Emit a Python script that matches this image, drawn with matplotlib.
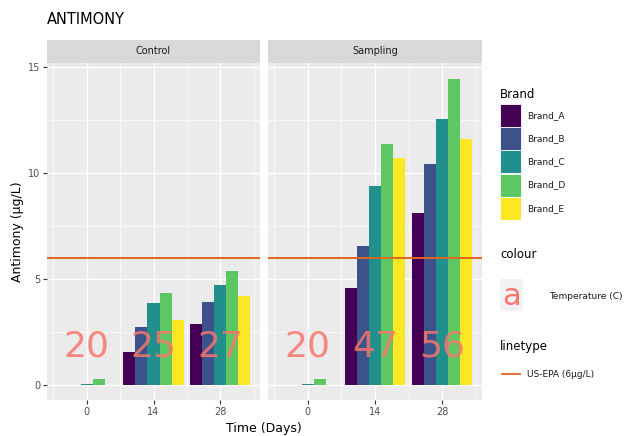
import numpy as np
import matplotlib.pyplot as plt
from matplotlib.patches import Rectangle
from matplotlib.lines import Line2D

# Antimony released per brand, by storage condition and time
dias = [0, 14, 28]
marcas = ["Brand_A", "Brand_B", "Brand_C", "Brand_D", "Brand_E"]
colores = ["#440154", "#3B528B", "#21908C", "#5DC863", "#FDE725"]

control = {
    "Brand_A": [0.0, 1.53, 2.85],
    "Brand_B": [0.0, 2.72, 3.89],
    "Brand_C": [0.05, 3.86, 4.70],
    "Brand_D": [0.28, 4.33, 5.37],
    "Brand_E": [0.0, 3.08, 4.17],
}
muestreo = {
    "Brand_A": [0.0, 4.58, 8.10],
    "Brand_B": [0.0, 6.55, 10.45],
    "Brand_C": [0.05, 9.38, 12.55],
    "Brand_D": [0.28, 11.35, 14.45],
    "Brand_E": [0.0, 10.70, 11.60],
}
temp_control = [20, 25, 27]
temp_muestreo = [20, 47, 56]
limite_epa = 6

GRIS_PANEL = "#EBEBEB"
GRIS_STRIP = "#D9D9D9"
ROJO_TEXTO = "#F8766D"
NARANJA = "#E0651E"

fig = plt.figure(figsize=(6.41, 4.36), dpi=100)
fig.patch.set_facecolor("white")

W, H = 641, 436


def caja(x0, y0, x1, y1):
    return [x0 / W, 1 - y1 / H, (x1 - x0) / W, (y1 - y0) / H]


def panel(x0, x1, datos, temps, titulo, eje_y):
    ax = fig.add_axes(caja(x0, 63, x1, 400))
    ax.set_facecolor(GRIS_PANEL)
    ancho_grupo = 0.9 * 14
    ancho = ancho_grupo / len(marcas)
    for i, (marca, col) in enumerate(zip(marcas, colores)):
        pos = np.array(dias) - ancho_grupo / 2 + ancho * (i + 0.5)
        ax.bar(pos, datos[marca], width=ancho, color=col, zorder=2)
    ax.axhline(limite_epa, color=NARANJA, lw=1.4, zorder=3)
    for d, t in zip(dias, temps):
        ax.text(d, 1.8, str(t), color=ROJO_TEXTO, fontsize=26, alpha=0.85,
                ha="center", va="center", zorder=4)
    ax.set_xlim(-8.3, 36.3)
    ax.set_ylim(-0.72, 15.2)
    ax.set_xticks(dias)
    ax.set_xticks([-7, 7, 21, 35], minor=True)
    ax.set_yticks([0, 5, 10, 15])
    ax.set_yticks([2.5, 7.5, 12.5], minor=True)
    ax.grid(which="major", color="white", lw=1.0, zorder=0)
    ax.grid(which="minor", color="white", lw=0.5, zorder=0)
    ax.set_axisbelow(True)
    for s in ax.spines.values():
        s.set_visible(False)
    ax.tick_params(which="major", length=3, color="#333333",
                   labelsize=7, labelcolor="#4D4D4D", pad=2)
    ax.tick_params(which="minor", length=0)
    if not eje_y:
        ax.tick_params(axis="y", length=0, labelleft=False)
    # franja del facet
    fig.patches.append(Rectangle((x0 / W, 1 - 63 / H), (x1 - x0) / W, 23 / H,
                                 transform=fig.transFigure,
                                 facecolor=GRIS_STRIP, edgecolor="none"))
    fig.text((x0 + x1) / 2 / W, 1 - 51.5 / H, titulo, ha="center",
             va="center", fontsize=7, color="#1A1A1A")
    return ax


ax1 = panel(47, 260, control, temp_control, "Control", True)
ax2 = panel(268, 482, muestreo, temp_muestreo, "Sampling", False)

ax1.set_ylabel("Antimony (µg/L)", fontsize=9, labelpad=3)
fig.text(264 / W, 1 - 428 / H, "Time (Days)", ha="center", va="center",
         fontsize=9)
fig.text(47 / W, 1 - 20 / H, "ANTIMONY", ha="left", va="center",
         fontsize=10.5)

# Leyendas dibujadas a mano, al estilo ggplot
fig.text(500 / W, 1 - 95 / H, "Brand", fontsize=8.5, va="center")
for i, (marca, col) in enumerate(zip(marcas, colores)):
    y0 = 104 + i * 23.2
    fig.patches.append(Rectangle((500 / W, 1 - (y0 + 23) / H), 21 / W, 23 / H,
                                 transform=fig.transFigure, facecolor=col,
                                 edgecolor="white", lw=0.6))
    fig.text(527 / W, 1 - (y0 + 11.5) / H, marca, fontsize=6.5,
             va="center", color="#1A1A1A")

fig.text(500 / W, 1 - 255 / H, "colour", fontsize=8.5, va="center")
fig.patches.append(Rectangle((500 / W, 1 - 311 / H), 23 / W, 32 / H,
                             transform=fig.transFigure, facecolor="#F2F2F2",
                             edgecolor="none"))
fig.text(511.5 / W, 1 - 296 / H, "a", fontsize=22, color=ROJO_TEXTO,
         ha="center", va="center")
fig.text(549 / W, 1 - 296 / H, "Temperature (C)", fontsize=6.5,
         va="center", color="#1A1A1A")

fig.text(500 / W, 1 - 346 / H, "linetype", fontsize=8.5, va="center")
fig.lines.append(Line2D([502 / W, 520 / W], [1 - 374 / H, 1 - 374 / H],
                        transform=fig.transFigure, color=NARANJA, lw=1.3))
fig.text(527 / W, 1 - 374 / H, "US-EPA (6µg/L)", fontsize=6.5,
         va="center", color="#1A1A1A")

fig.savefig("out.png", dpi=100)
